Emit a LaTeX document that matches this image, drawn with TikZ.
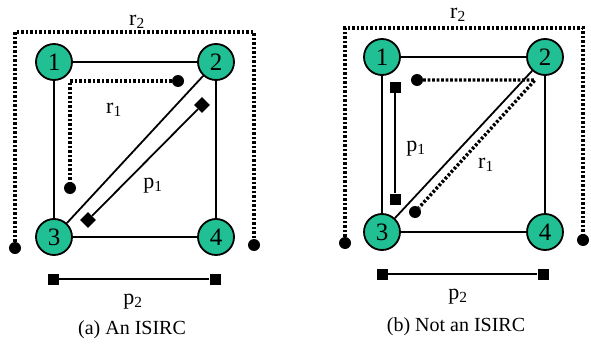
\documentclass[tikz,border=0pt]{standalone}
\usepackage{fontspec}
\setmainfont{Liberation Serif}
\definecolor{isgreen}{HTML}{21BF94}
\usetikzlibrary{positioning, shapes.geometric}

\begin{document}
\begin{tikzpicture}[x=1pt, y=-1pt,
    vtx/.style={circle, draw, line width=1.8pt, fill=isgreen, minimum size=36pt,
                inner sep=0pt, font=\fontsize{25}{25}\selectfont},
    lnk/.style={line width=1.8pt},
    rte/.style={line width=3.4pt, dash pattern=on 2.6pt off 1.9pt},
    rend/.style={circle, fill, minimum size=12pt, inner sep=0pt},
    pend/.style={rectangle, fill, minimum size=11pt, inner sep=0pt},
    dend/.style={diamond, fill, minimum size=16pt, inner sep=0pt},
    lbl/.style={font=\fontsize{22}{22}\selectfont},
    captext/.style={font=\fontsize{20}{20}\selectfont}
  ]
    \useasboundingbox (0,0) rectangle (591,345);

    % (a) An ISIRC
    \node[vtx] (a1) at (54,62) {1};
    \node[vtx] (a2) at (216,62) {2};
    \node[vtx] (a3) at (54,237) {3};
    \node[vtx] (a4) at (216,237) {4};
    \draw[lnk] (a1) -- (a2);
    \draw[lnk] (a1) -- (a3);
    \draw[lnk] (a2) -- (a4);
    \draw[lnk] (a3) -- (a4);
    \draw[lnk] (a3) -- (a2);

    \node[rend] (ar2s) at (15,248) {};
    \node[rend] (ar2e) at (254,245) {};
    \coordinate (ar2top) at (135,32);
    \draw[rte] (ar2s) |- (ar2top) -| (ar2e);
    \node[lbl] (ar2l) at (137,22) {r\textsubscript{2}};

    \node[rend] (ar1s) at (178,81) {};
    \node[rend] (ar1e) at (70,188) {};
    \draw[rte] (ar1s) -| (ar1e);
    \node[lbl] (ar1l) at (114,110) {r\textsubscript{1}};

    \node[dend] (ap1s) at (202,105) {};
    \node[dend] (ap1e) at (88,220) {};
    \draw[lnk] (ap1s) -- (ap1e);
    \node[lbl] (ap1l) at (153,186) {p\textsubscript{1}};

    \node[pend] (ap2s) at (53,279) {};
    \node[pend] (ap2e) at (215,279) {};
    \draw[lnk] (ap2s) -- (ap2e);
    \node[lbl] (ap2l) at (133,302) {p\textsubscript{2}};
    \node[captext] (acap) at (132,330) {(a) An ISIRC};

    % (b) Not an ISIRC
    \node[vtx] (b1) at (382,57) {1};
    \node[vtx] (b2) at (545,57) {2};
    \node[vtx] (b3) at (382,232) {3};
    \node[vtx] (b4) at (545,232) {4};
    \draw[lnk] (b1) -- (b2);
    \draw[lnk] (b1) -- (b3);
    \draw[lnk] (b2) -- (b4);
    \draw[lnk] (b3) -- (b4);
    \draw[lnk] (b3) -- (b2);

    \node[rend] (br2s) at (345,243) {};
    \node[rend] (br2e) at (583,240) {};
    \coordinate (br2top) at (460,28);
    \draw[rte] (br2s) |- (br2top) -| (br2e);
    \node[lbl] (br2l) at (458,15) {r\textsubscript{2}};

    \node[rend] (br1s) at (417,80) {};
    \node[rend] (br1e) at (415,212) {};
    \coordinate (br1c) at (535,80);
    \draw[rte] (br1s) -- (br1c) -- (br1e);
    \node[lbl] (br1l) at (486,165) {r\textsubscript{1}};

    \node[pend] (bp1s) at (395,87) {};
    \node[pend] (bp1e) at (395,199) {};
    \draw[lnk] (bp1s) -- (bp1e);
    \node[lbl] (bp1l) at (416,149) {p\textsubscript{1}};

    \node[pend] (bp2s) at (382,274) {};
    \node[pend] (bp2e) at (543,274) {};
    \draw[lnk] (bp2s) -- (bp2e);
    \node[lbl] (bp2l) at (458,297) {p\textsubscript{2}};
    \node[captext] (bcap) at (456,327) {(b) Not an ISIRC};
  \end{tikzpicture}
\end{document}
